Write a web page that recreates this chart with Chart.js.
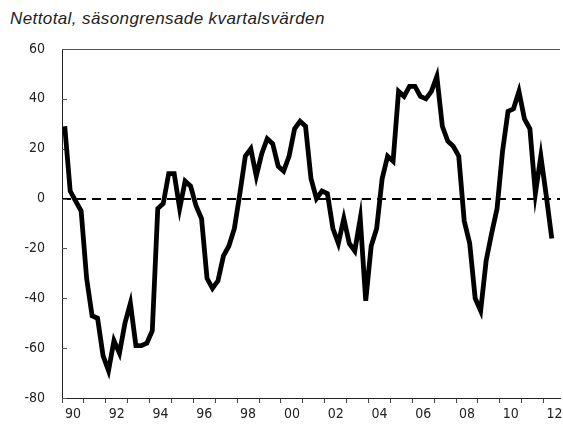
<!DOCTYPE html>
<html>
<head>
<meta charset="utf-8">
<script src="https://cdn.jsdelivr.net/npm/chart.js@4"></script>
<style>
  body { margin: 0; background: #fff; }
  #wrap { position: relative; width: 563px; height: 427px; }
  #title { position: absolute; left: 10px; top: 9px; font: italic 17px "Liberation Sans", Arial, sans-serif; letter-spacing: 0.4px; color: #222; }
  canvas { position: absolute; left: 0; top: 0; }
</style>
</head>
<body>
<div id="wrap">
  <div id="title">Nettotal, säsongrensade kvartalsvärden</div>
  <canvas id="chart" width="563" height="427"></canvas>
</div>
<script>
// DATA
const startYear = 1990; // first quarter 1990 Q1
const netTotal = [
  29, 3, -1, -5, -32, -47, -48, -63, -69, -57,
  -62, -50, -42, -59, -59, -58, -53, -4, -2, 10,
  10, -4, 7, 5, -3, -8, -32, -36, -33, -23,
  -19, -12, 2, 17, 20, 9, 18, 24, 22, 13,
  11, 17, 28, 31, 29, 8, 0, 3, 2, -12,
  -18, -8, -18, -21, -8, -41, -19, -12, 8, 17,
  15, 43, 41, 45, 45, 41, 40, 43, 49, 29,
  23, 21, 17, -9, -18, -40, -45, -25, -14, -4,
  19, 35, 36, 43, 32, 28, 2, 17, 1, -16
];
const yearTicks = [1990, 1991, 1992, 1993, 1994, 1995, 1996, 1997, 1998, 1999, 2000, 2001,
  2002, 2003, 2004, 2005, 2006, 2007, 2008, 2009, 2010, 2011, 2012];
const yTicks = [-80, -60, -40, -20, 0, 20, 40, 60];

const FONT = '"DejaVu Sans Condensed", "Liberation Sans", sans-serif';

// quarter midpoints on a year scale
const points = netTotal.map((v, i) => ({ x: startYear + i / 4 + 0.125, y: v }));

// extra lines: zero dashed line, top border, inside y ticks
const extras = {
  id: 'extras',
  beforeDatasetsDraw(chart) {
    const c = chart.ctx, a = chart.chartArea, y = chart.scales.y;
    c.save();
    c.strokeStyle = '#000';
    c.lineWidth = 2;
    c.setLineDash([9, 6]);
    const y0 = Math.round(y.getPixelForValue(0));
    c.beginPath();
    c.moveTo(a.left, y0);
    c.lineTo(a.right, y0);
    c.stroke();
    c.setLineDash([]);
    c.strokeStyle = '#555';
    c.lineWidth = 1;
    c.beginPath();
    c.moveTo(a.left, a.top + 0.5);
    c.lineTo(a.right, a.top + 0.5);
    yTicks.forEach(t => {
      const py = Math.round(y.getPixelForValue(t)) + 0.5;
      c.moveTo(a.left, py);
      c.lineTo(a.left + 5, py);
    });
    c.stroke();
    c.restore();
  }
};

const ctx = document.getElementById('chart').getContext('2d');
new Chart(ctx, {
  type: 'line',
  data: {
    datasets: [{
      data: points,
      borderColor: '#000',
      borderWidth: 4.8,
      pointRadius: 0,
      fill: false,
      tension: 0
    }]
  },
  options: {
    responsive: false,
    animation: false,
    layout: { padding: { top: 49, right: 3, left: 0, bottom: 0 } },
    plugins: { legend: { display: false }, tooltip: { enabled: false } },
    scales: {
      x: {
        type: 'linear',
        min: 1990,
        max: 2012.75,
        afterBuildTicks: s => { s.ticks = yearTicks.map(v => ({ value: v })); },
        afterFit: s => { s.height = 29; },
        grid: { drawOnChartArea: false, tickLength: 5, color: '#444' },
        border: { color: '#222', width: 1 },
        ticks: {
          autoSkip: false,
          maxRotation: 0,
          padding: 3,
          labelOffset: 11,
          color: '#222',
          font: { family: FONT, size: 14 },
          callback: v => (v % 2 === 0 ? String(v).slice(2) : '')
        }
      },
      y: {
        min: -80,
        max: 60,
        afterBuildTicks: s => { s.ticks = yTicks.map(v => ({ value: v })); },
        afterFit: s => { s.width = 62; },
        grid: { drawOnChartArea: false, drawTicks: false },
        border: { color: '#222', width: 1 },
        ticks: {
          padding: 17,
          color: '#222',
          font: { family: FONT, size: 14 }
        }
      }
    }
  },
  plugins: [extras]
});
</script>
</body>
</html>
